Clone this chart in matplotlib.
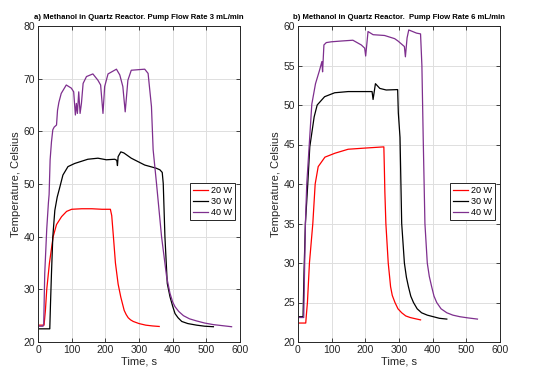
import matplotlib
matplotlib.use("Agg")
from matplotlib import pyplot as plt

# a) 3 mL/min
red3_t = [0, 18, 22, 26, 34, 45, 55, 70, 85, 100, 130, 160, 190, 215, 219, 224, 230, 238, 246, 256, 262, 268, 275, 283, 300, 320, 340, 360]
red3_y = [23.2, 23.2, 26, 30, 35, 40, 42.3, 43.8, 44.8, 45.2, 45.3, 45.3, 45.2, 45.2, 44, 40, 35, 31, 28.5, 26, 25.2, 24.6, 24.2, 23.9, 23.5, 23.2, 23.05, 22.95]

black3_t = [0, 35, 37, 40, 44, 50, 57, 64, 74, 89, 109, 148, 178, 203, 228, 234, 236, 238, 246, 255, 277, 317, 351, 362, 369,
            372, 377, 384, 392, 400, 407, 416, 427, 445, 471, 495, 521]
black3_y = [22.5, 22.5, 27, 33, 40, 45, 47.5, 49.2, 51.7, 53.3, 53.9, 54.7, 54.9, 54.6, 54.7, 54.5, 53.5, 55.2, 56.1, 55.9, 54.9, 53.6, 53.0, 52.7, 52.2,
            50.1, 40, 31.1, 28.6, 26.8, 25.4, 24.6, 23.9, 23.5, 23.2, 23.0, 22.9]

purple3_t = [0, 15, 17, 20, 26, 31, 33, 36, 40, 44, 48, 55, 58, 62, 69, 84, 99, 106, 111, 114, 117, 121, 125, 129, 134, 144, 163, 178,
             186, 193, 198, 208, 233, 243, 252, 259, 267, 277, 317, 327,
             337, 342, 352, 367, 382, 392, 400, 407, 418, 432, 450, 471, 495, 521, 548, 575]
purple3_y = [23.0, 23.0, 23.5, 33, 41.5, 46.5, 48, 54.6, 58, 60.3, 60.8, 61.2, 64, 65.5, 67.2, 68.8, 68.2, 67.5, 63.1, 65.3, 63.4, 67.5, 63.4, 65.3, 69.1, 70.4, 70.9, 69.7,
             68.8, 63.4, 68.5, 70.9, 71.8, 70.7, 68.5, 63.7, 69.7, 71.6, 71.8, 71.0,
             64.7, 56.5, 50.1, 40, 32.4, 29.25, 27.6, 26.7, 25.8, 25, 24.4, 24, 23.6, 23.3, 23.1, 22.9]

# b) 6 mL/min
red6_t = [0, 23, 25, 28, 34, 44, 51, 60, 80, 110, 149, 200, 255, 256.5, 258, 261, 268, 272, 275, 280, 288, 297, 308, 320, 333, 348, 364]
red6_y = [22.4, 22.4, 23.5, 25, 30, 35, 40, 42.2, 43.4, 43.9, 44.4, 44.55, 44.7, 42, 39, 35, 30, 28.3, 27, 25.9, 25, 24.2, 23.7, 23.3, 23.1, 22.95, 22.8]

black6_t = [0, 15, 18, 22, 29, 35, 48, 57, 79, 109, 149, 220, 223, 230, 243, 262, 296, 298, 303, 308, 316, 322, 328, 335, 343, 354, 367, 384, 402, 420, 442]
black6_y = [23.2, 23.2, 29, 35, 40, 44.7, 48.5, 50.0, 51.05, 51.55, 51.7, 51.7, 50.7, 52.7, 52.1, 51.9, 51.95, 49, 45.9, 35, 30, 28.2, 27, 25.8, 25, 24.2, 23.7, 23.4, 23.2, 23.0, 22.9]

purple6_t = [0, 17, 19, 22, 26, 33, 41, 52, 64, 71, 73, 77, 84, 99, 129, 163, 188, 198, 201, 208, 223, 257, 287, 297, 316, 319, 324, 329,
             352, 364, 368, 372, 377, 384, 390, 397, 404, 412, 425, 442, 460, 481, 505, 533]
purple6_y = [23.1, 23.1, 28, 35, 40, 44.7, 50.1, 52.7, 54.4, 55.5, 54.2, 57.6, 57.9, 58.0, 58.1, 58.2, 57.6, 57.2, 56.2, 59.3, 58.9, 58.8, 58.4, 58.1, 57.4, 56.1, 58.5, 59.5,
             59.1, 59.0, 55, 45.6, 35, 30, 28.3, 27, 25.8, 25, 24.2, 23.7, 23.4, 23.2, 23.05, 22.9]

labels = ["20 W", "30 W", "40 W"]
colors = ["#ff0000", "#000000", "#7e2f8e"]

plt.rcParams['font.family'] = ['Liberation Sans', 'DejaVu Sans']

fig = plt.figure(figsize=(5.47, 3.80), dpi=100)
ax1 = fig.add_axes([38/547, 38/380, 202/547, 316/380])
ax2 = fig.add_axes([298/547, 38/380, 202/547, 316/380])

def setup(ax, series, title, ylim, yticks):
    for (t, y), lab, c in zip(series, labels, colors):
        ax.plot(t, y, color=c, lw=0.9, label=lab)
    ax.set_xlim(0, 600)
    ax.set_ylim(*ylim)
    ax.set_xticks(range(0, 601, 100))
    ax.set_yticks(yticks)
    ax.grid(True, color="#dedede", lw=0.7)
    ax.set_axisbelow(True)
    ax.tick_params(direction="in", top=True, right=True, length=3, labelsize=7.5,
                   colors="#262626", width=0.6, pad=2)
    for s in ax.spines.values():
        s.set_color("#262626")
        s.set_linewidth(0.7)
    ax.set_title(title, fontsize=5.6, fontweight="bold", pad=5)
    ax.set_xlabel("Time, s", fontsize=8, color="#262626", labelpad=1)
    ax.set_ylabel("Temperature, Celsius", fontsize=8, color="#262626", labelpad=2)
    leg = ax.legend(loc="upper right", bbox_to_anchor=(0.975, 0.503), fontsize=6.5,
                    fancybox=False, framealpha=1, edgecolor="#262626",
                    handlelength=1.6, handletextpad=0.4, borderpad=0.3,
                    labelspacing=0.25, borderaxespad=0)
    leg.get_frame().set_linewidth(0.7)

setup(ax1, [(red3_t, red3_y), (black3_t, black3_y), (purple3_t, purple3_y)],
      "a) Methanol in Quartz Reactor. Pump Flow Rate 3 mL/min", (20, 80), range(20, 81, 10))
setup(ax2, [(red6_t, red6_y), (black6_t, black6_y), (purple6_t, purple6_y)],
      "b) Methanol in Quartz Reactor.  Pump Flow Rate 6 mL/min", (20, 60), range(20, 61, 5))

fig.savefig("out.png", dpi=100)
